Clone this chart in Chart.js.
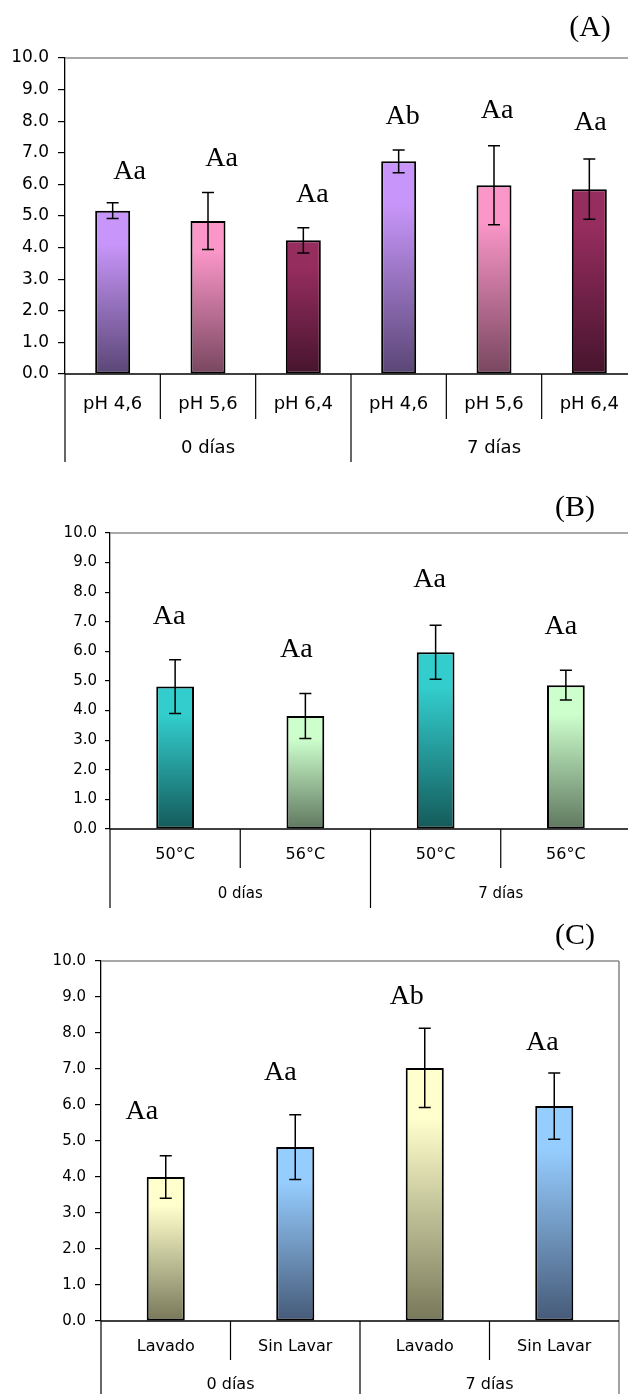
<!DOCTYPE html>
<html>
<head>
<meta charset="utf-8">
<script src="https://cdn.jsdelivr.net/npm/chart.js@4/dist/chart.umd.min.js"></script>
<style>
  html, body { margin: 0; padding: 0; background: #fff; overflow: hidden; width: 628px; height: 1394px; }
  .panel { position: absolute; left: 0; }
</style>
</head>
<body>
<div class="panel" style="top:0px"><canvas id="chartA" width="640" height="470"></canvas></div>
<div class="panel" style="top:480px"><canvas id="chartB" width="640" height="430"></canvas></div>
<div class="panel" style="top:895px"><canvas id="chartC" width="640" height="499"></canvas></div>
<script>
// Storage groups shared by all three panels
const groupLabels = ['0 días', '7 días'];

// (A) pH of the sample
const phLabels  = ['pH 4,6', 'pH 5,6', 'pH 6,4', 'pH 4,6', 'pH 5,6', 'pH 6,4'];
const phMeans   = [5.17, 4.84, 4.23, 6.73, 5.97, 5.85];
const phErrors  = [0.25, 0.90, 0.40, 0.36, 1.25, 0.95];
const phLetters = ['Aa', 'Aa', 'Aa', 'Ab', 'Aa', 'Aa'];

// (B) treatment temperature
const tempLabels  = ['50°C', '56°C', '50°C', '56°C'];
const tempMeans   = [4.81, 3.82, 5.97, 4.86];
const tempErrors  = [0.91, 0.76, 0.91, 0.50];
const tempLetters = ['Aa', 'Aa', 'Aa', 'Aa'];

// (C) washing
const washLabels  = ['Lavado', 'Sin Lavar', 'Lavado', 'Sin Lavar'];
const washMeans   = [4.00, 4.83, 7.03, 5.97];
const washErrors  = [0.59, 0.90, 1.10, 0.92];
const washLetters = ['Aa', 'Aa', 'Ab', 'Aa'];

const SANS = "'DejaVu Sans', Arial, sans-serif";
const SERIF = "'Liberation Serif', 'Times New Roman', serif";

function makePanel(id, data, style) {
  const n = data.labels.length;
  const perGroup = n / groupLabels.length;

  const decor = {
    id: 'decor',
    afterDraw(chart) {
      const { ctx, chartArea: a, scales: { x, y } } = chart;
      ctx.save();

      // grey frame on top and right of the plot area
      ctx.strokeStyle = '#8c8c8c';
      ctx.lineWidth = 1.6;
      ctx.beginPath();
      ctx.moveTo(a.left, a.top); ctx.lineTo(a.right, a.top);
      ctx.moveTo(a.right, a.top); ctx.lineTo(a.right, a.bottom + style.longLen);
      ctx.stroke();

      // error bars
      ctx.strokeStyle = '#000';
      ctx.lineWidth = 1.5;
      data.means.forEach((m, i) => {
        const cx = x.getPixelForValue(i);
        const yt = y.getPixelForValue(m + data.errors[i]);
        const yb = y.getPixelForValue(m - data.errors[i]);
        ctx.beginPath();
        ctx.moveTo(cx, yt); ctx.lineTo(cx, yb);
        ctx.moveTo(cx - 6, yt); ctx.lineTo(cx + 6, yt);
        ctx.moveTo(cx - 6, yb); ctx.lineTo(cx + 6, yb);
        ctx.stroke();
      });

      // significance letters above each error bar
      ctx.fillStyle = '#000';
      ctx.font = style.letterFont;
      ctx.textAlign = 'center';
      ctx.textBaseline = 'middle';
      data.letters.forEach((t, i) => {
        const cx = x.getPixelForValue(i);
        const yt = y.getPixelForValue(data.means[i] + data.errors[i]);
        const [dx, dy] = style.letterShift[i];
        ctx.fillText(t, cx + dx, yt - dy);
      });

      // baseline
      ctx.strokeStyle = '#000';
      ctx.lineWidth = 1.5;
      ctx.beginPath();
      ctx.moveTo(a.left, a.bottom); ctx.lineTo(a.right, a.bottom);
      ctx.stroke();

      // category dividers below the axis
      const edge = (i) => i === 0 ? a.left : i === n ? a.right
        : (x.getPixelForValue(i - 1) + x.getPixelForValue(i)) / 2;
      ctx.lineWidth = 1.2;
      for (let i = 0; i < n; i++) {
        const long = i % perGroup === 0;
        ctx.beginPath();
        ctx.moveTo(edge(i), a.bottom);
        ctx.lineTo(edge(i), a.bottom + (long ? style.longLen : style.shortLen));
        ctx.stroke();
      }

      // category labels
      ctx.font = style.catFont;
      ctx.textBaseline = 'middle';
      data.labels.forEach((t, i) => {
        ctx.fillText(t, x.getPixelForValue(i), a.bottom + style.catDy);
      });

      // storage-time labels
      ctx.font = style.groupFont;
      groupLabels.forEach((t, g) => {
        const cx = (edge(g * perGroup) + edge((g + 1) * perGroup)) / 2;
        ctx.fillText(t, cx, a.bottom + style.groupDy);
      });

      // panel letter
      ctx.font = style.titleFont;
      ctx.fillText(style.title, style.titleX, style.titleY);
      ctx.restore();
    }
  };

  return new Chart(document.getElementById(id), {
    type: 'bar',
    data: {
      labels: data.labels,
      datasets: [{
        data: data.means,
        borderColor: '#000',
        borderWidth: 2,
        borderSkipped: false,
        categoryPercentage: 1,
        barPercentage: style.barPct,
        backgroundColor: (c) => {
          const pair = style.colors[(c.dataIndex || 0) % style.colors.length];
          const chart = c.chart;
          if (!chart.chartArea || c.raw === undefined) return pair[0];
          const ys = chart.scales.y;
          const top = ys.getPixelForValue(c.raw);
          const bottom = ys.getPixelForValue(0);
          const g = chart.ctx.createLinearGradient(0, top, 0, bottom);
          g.addColorStop(0, pair[0]);
          g.addColorStop(0.2, pair[0]);
          g.addColorStop(1, pair[1]);
          return g;
        }
      }]
    },
    options: {
      responsive: false,
      animation: false,
      layout: { padding: style.padding },
      plugins: { legend: { display: false }, tooltip: { enabled: false } },
      scales: {
        x: { display: false },
        y: {
          min: 0, max: 10,
          afterFit: (s) => { s.width = style.axisLeft; },
          ticks: {
            stepSize: 1,
            padding: style.tickPad,
            color: '#000',
            font: { family: 'DejaVu Sans', size: style.tickSize },
            callback: (v) => Number(v).toFixed(1)
          },
          grid: { drawOnChartArea: false, drawTicks: true, tickLength: style.tickLen, color: '#000', lineWidth: 1.2 },
          border: { display: true, color: '#000', width: 1.3 }
        }
      }
    },
    plugins: [decor]
  });
}

makePanel('chartA',
  { labels: phLabels, means: phMeans, errors: phErrors, letters: phLetters },
  {
    title: '(A)', titleX: 590, titleY: 28, titleFont: '30px ' + SERIF,
    letterFont: '28px ' + SERIF,
    letterShift: [[17, 31], [13.5, 34], [9, 33], [4, 33], [3, 35], [1, 36]],
    colors: [['#c896fa', '#5a4676'], ['#fa96c8', '#78465f'], ['#962d5f', '#46142d']],
    barPct: 0.367,
    padding: { top: 58, bottom: 96, left: 0, right: 3 },
    axisLeft: 65, tickSize: 17, tickLen: 7, tickPad: 9,
    shortLen: 45, longLen: 88, catDy: 30, groupDy: 74,
    catFont: '18px ' + SANS, groupFont: '18px ' + SANS
  });

makePanel('chartB',
  { labels: tempLabels, means: tempMeans, errors: tempErrors, letters: tempLetters },
  {
    title: '(B)', titleX: 575, titleY: 28, titleFont: '30px ' + SERIF,
    letterFont: '28px ' + SERIF,
    letterShift: [[-6, 43], [-9, 44], [-6, 46], [-5, 44]],
    colors: [['#33cdcd', '#145a5a'], ['#cdffcd', '#5f785f']],
    barPct: 0.29,
    padding: { top: 53, bottom: 81, left: 0, right: 9 },
    axisLeft: 110, tickSize: 15, tickLen: 5, tickPad: 8,
    shortLen: 39, longLen: 79, catDy: 26, groupDy: 65,
    catFont: '16px ' + SANS, groupFont: '15px ' + SANS
  });

makePanel('chartC',
  { labels: washLabels, means: washMeans, errors: washErrors, letters: washLetters },
  {
    title: '(C)', titleX: 575, titleY: 41, titleFont: '30px ' + SERIF,
    letterFont: '28px ' + SERIF,
    letterShift: [[-24, 44], [-15, 42], [-18, 32], [-12, 30]],
    colors: [['#ffffcd', '#78785a'], ['#96cdff', '#465a78']],
    barPct: 0.294,
    padding: { top: 66, bottom: 73, left: 0, right: 21 },
    axisLeft: 101, tickSize: 15, tickLen: 6, tickPad: 9,
    shortLen: 39, longLen: 80, catDy: 26, groupDy: 64,
    catFont: '16px ' + SANS, groupFont: '16px ' + SANS
  });
</script>
</body>
</html>
